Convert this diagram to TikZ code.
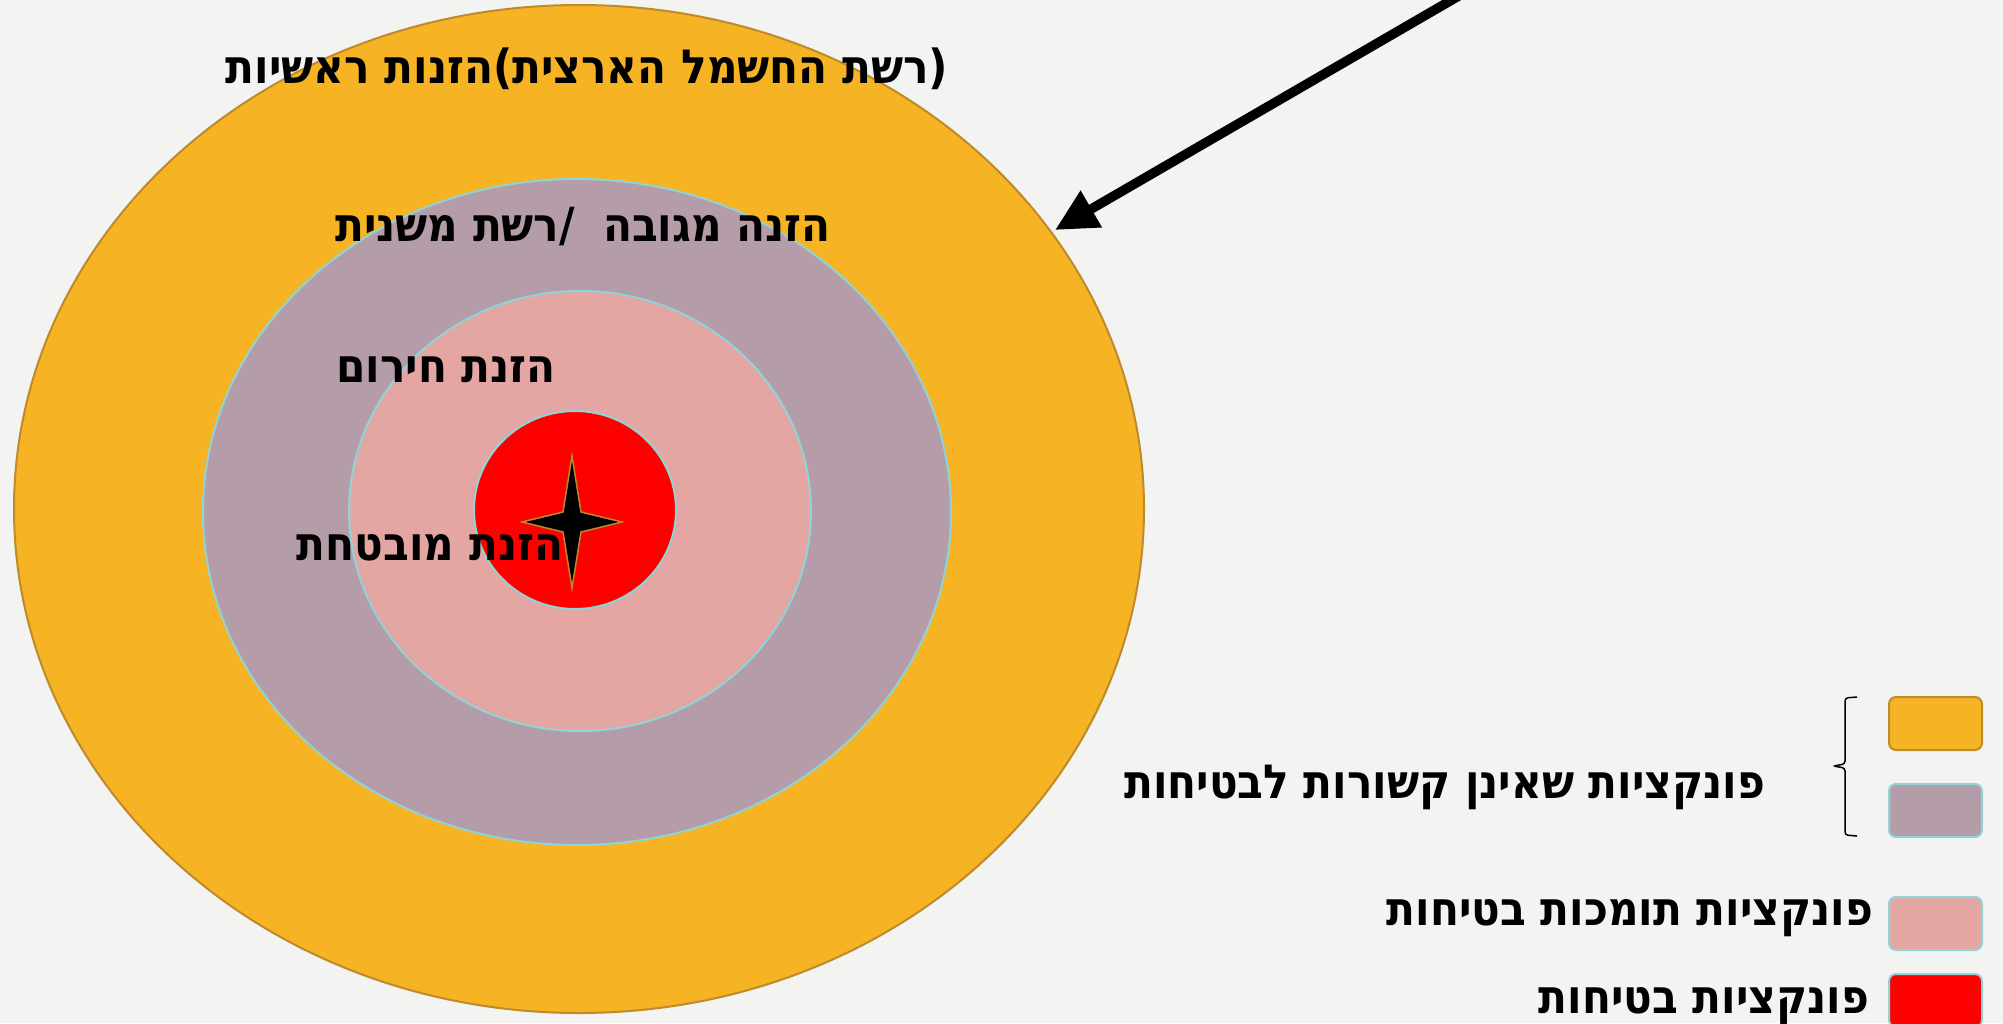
\documentclass[tikz,border=0pt]{standalone}
\usepackage{fontspec}
\usepackage{tikz}
\usetikzlibrary{shapes.geometric, arrows.meta}
\newfontfamily\hebfont[Script=Hebrew]{DejaVu Sans Condensed Bold}
\TeXXeTstate=1
\definecolor{bgcol}{HTML}{F3F3F1}
\definecolor{primcol}{HTML}{F6B323}
\definecolor{primline}{HTML}{BF8A2A}
\definecolor{seccol}{HTML}{B59CA9}
\definecolor{emcol}{HTML}{E4A6A3}
\definecolor{ringline}{HTML}{8FD4D6}
\definecolor{starline}{HTML}{B98A2C}

\begin{document}
\begin{tikzpicture}[
      x=1pt, y=-1pt,
      ring/.style={draw=ringline, line width=2pt, ellipse, inner sep=0pt},
      heb/.style={font=\hebfont\fontsize{47}{50}\selectfont, inner sep=0pt, anchor=base},
      legtext/.style={heb, anchor=base east},
      legbox/.style={draw=ringline, line width=2pt, rounded corners=7pt,
        minimum width=93pt, minimum height=53pt, inner sep=0pt, anchor=north west}
    ]
      \useasboundingbox[fill=bgcol] (0,0) rectangle (2003,1023);

      % rings
      \node[ring, draw=primline, fill=primcol, minimum width=1130pt, minimum height=1008pt] (primary) at (579,509) {};
      \node[ring, fill=seccol, minimum width=748pt, minimum height=666pt] (secondary) at (577,512) {};
      \node[ring, fill=emcol, minimum width=462pt, minimum height=440pt] (emergency) at (580,511) {};
      \node[ring, fill=red, minimum width=202pt, minimum height=198pt] (assured) at (575,510) {};

      % star
      \draw[fill=black, draw=starline, line width=1.5pt]
        (572,456) -- (581,512) -- (622,522) -- (581,532) -- (572,588)
        -- (563,532) -- (522,522) -- (563,512) -- cycle;

      % labels
      \node[heb] (primlabel) at (587,83) {\beginR(רשת החשמל הארצית)הזנות ראשיות\endR};
      \node[heb] (seclabel) at (583,241) {\beginR הזנה מגובה\hspace{0.6em}/רשת משנית\endR};
      \node[heb] (emlabel) at (446,382) {\beginR הזנת חירום\endR};
      \node[heb] (aslabel) at (430,560) {\beginR הזנת מובטחת\endR};

      % arrow
      \coordinate (src) at (1469,-10);
      \coordinate (tip) at (1055,230);
      \draw[line width=9.5pt, -{Triangle[length=42pt, width=40pt]}] (src) -- (tip);

      % legend
      \node[legbox, draw=primline, fill=primcol] (keyprim) at (1888,696) {};
      \node[legbox, fill=seccol] (keysec) at (1888,783) {};
      \node[legbox, fill=emcol] (keyem) at (1888,896) {};
      \node[legbox, fill=red] (keyas) at (1888,973) {};

      \coordinate (bracetop) at (1857,697);
      \coordinate (bracebot) at (1857,836);
      \draw[line width=1.5pt, rounded corners=3pt]
        (bracetop) -- (1845,698) -- (1845,764) -- (1833,766)
        -- (1845,768) -- (1845,835) -- (bracebot);

      \node[legtext] (nonsafety) at (1765,798) {\beginR פונקציות שאינן קשורות לבטיחות\endR};
      \node[legtext] (support) at (1873,925) {\beginR פונקציות תומכות בטיחות\endR};
      \node[legtext] (safety) at (1869,1013) {\beginR פונקציות בטיחות\endR};
\end{tikzpicture}
\end{document}
